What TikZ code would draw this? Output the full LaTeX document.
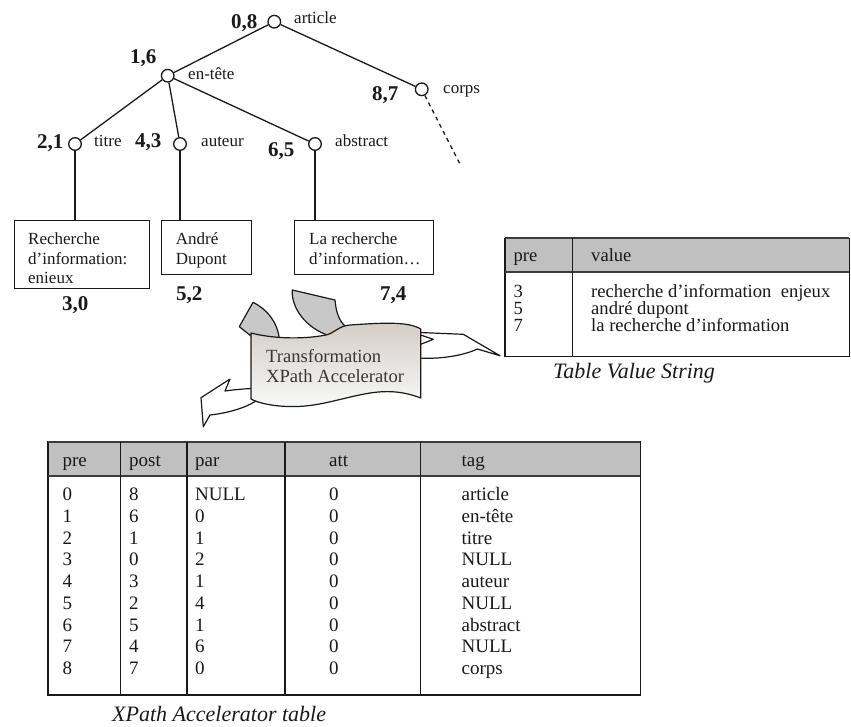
\documentclass[tikz,border=0pt]{standalone}
\usepackage{fontspec}
\setmainfont{Liberation Serif}
\newcommand\setfs[1]{\fontsize{#1}{#1}\selectfont}
\definecolor{hdrgray}{RGB}{192,192,192}
\definecolor{argray}{RGB}{200,200,200}
\definecolor{bantop}{RGB}{212,204,198}
\definecolor{banbot}{RGB}{247,249,249}
\definecolor{ink}{RGB}{25,25,25}
\definecolor{bantext}{RGB}{55,55,55}
\begin{document}
\begin{tikzpicture}[x=1pt,y=-1pt,
  tn/.style={circle,draw=ink,line width=1.3pt,minimum size=12.6pt,inner sep=0pt,fill=white},
  num/.style={anchor=base west,inner sep=0pt,text=ink,font=\setfs{21}\bfseries},
  lbl/.style={anchor=base west,inner sep=0pt,text=ink,font=\setfs{17}},
  boxn/.style={draw=ink,line width=1.3pt,anchor=north west,inner sep=0pt},
  tl/.style={draw=ink,line width=1.3pt},
  tt/.style={anchor=base west,inner sep=0pt,text=ink,font=\setfs{19}},
  vt/.style={anchor=base west,inner sep=0pt,text=ink,font=\setfs{18.6}},
  captxt/.style={anchor=base west,inner sep=0pt,text=ink,font=\setfs{22}\itshape},
  tgrid/.style={draw=ink,line width=1.5pt},
  tgridthick/.style={draw=ink!85,line width=2pt},
  arw/.style={draw=ink,line width=1.2pt,line join=round}
]
\useasboundingbox (0,0) rectangle (851,726);

% ---------- tree ----------
\node[tn] (art) at (274.3,21.7) {};
\node[tn] (ent) at (167.7,75.7) {};
\node[tn] (cor) at (421.7,89.3) {};
\node[tn] (tit) at (75,144) {};
\node[tn] (aut) at (180,144) {};
\node[tn] (abs) at (315,144) {};
\coordinate (cend) at (461,166);

\node[num] (n08) at (231,28) {0,8};
\node[lbl] (lart) at (294,23.5) {article};
\node[num] (n16) at (130,63.5) {1,6};
\node[lbl] (lent) at (188,79) {en-tête};
\node[num] (n87) at (372,100) {8,7};
\node[lbl] (lcor) at (443,93.3) {corps};
\node[num] (n21) at (37,148.3) {2,1};
\node[lbl] (ltit) at (94,146.7) {titre};
\node[num] (n43) at (135,147.7) {4,3};
\node[lbl] (laut) at (201,146.7) {auteur};
\node[num] (n65) at (268,156) {6,5};
\node[lbl] (labs) at (335,146.7) {abstract};

\node[boxn,minimum width=135pt,minimum height=68pt] (b1) at (14,220) {};
\node[boxn,minimum width=90pt,minimum height=54pt] (b2) at (161,220) {};
\node[boxn,minimum width=139pt,minimum height=54pt] (b3) at (294,220) {};
\node[lbl] (t11) at (28,244) {Recherche};
\node[lbl] (t12) at (28,264) {d’information:};
\node[lbl] (t13) at (28,283) {enieux};
\node[lbl] (t21) at (175.7,244) {André};
\node[lbl] (t22) at (175.7,264) {Dupont};
\node[lbl] (t31) at (309,244) {La recherche};
\node[lbl] (t32) at (309,264) {d’information…};

\node[num] (n30) at (62,310.7) {3,0};
\node[num] (n52) at (176,300) {5,2};
\node[num] (n74) at (380,300) {7,4};

\draw[tl] (art) -- (ent);
\draw[tl] (art) -- (cor);
\draw[tl] (ent) -- (tit);
\draw[tl] (ent) -- (aut);
\draw[tl] (ent) -- (abs);
\draw[tl] (tit.south) -- (tit.south |- b1.north);
\draw[tl] (aut.south) -- (aut.south |- b2.north);
\draw[tl] (abs.south) -- (abs.south |- b3.north);
\draw[tl,dash pattern=on 4pt off 4pt] (cor) -- (cend);

% ---------- transformation banner ----------
\path[arw,fill=argray] (239.3,326.7) -- (253,302.3)
  .. controls (268,310) and (277,322) .. (279.3,338.3) -- (251,336) -- cycle;
\path[arw,fill=argray] (292.3,290) -- (335,300)
  .. controls (336,312) and (339,321) .. (346,327) -- (330,336)
  .. controls (305,328) and (291,307) .. (292.3,290) -- cycle;
\path[arw,fill=white] (415,332.3) -- (463.3,334.3) -- (500,355.7) -- (477.3,349)
  .. controls (465,355) and (440,360) .. (415,357.7) -- cycle;
\draw[arw] (420.7,335) -- (433.3,339.3) -- (420.7,344.3);
\path[arw,fill=white] (256,388.3) .. controls (240,389) and (232,390) .. (225,391)
  -- (230,379) -- (201,397.7) -- (203.3,426.7) -- (210,415)
  .. controls (228,413) and (245,408) .. (256,401) -- cycle;

\path[arw,top color=bantop,bottom color=banbot]
  (251,333) .. controls (270,338) and (300,340) .. (326,335)
  .. controls (335,333) and (338,326) .. (350,325)
  .. controls (380,323) and (408,321) .. (420.7,329)
  -- (420.7,398)
  .. controls (405,392) and (390,390) .. (370,393)
  .. controls (345,397) and (320,406.5) .. (295,406.5)
  .. controls (275,407) and (258,403) .. (251,399) -- cycle;
\node[anchor=base west,inner sep=0pt,text=bantext,font=\setfs{18.6}] (bt1) at (266,362.7) {Transformation};
\node[anchor=base west,inner sep=0pt,text=bantext,font=\setfs{18.6}] (bt2) at (266,382.7) {XPath Accelerator};

% ---------- value string table ----------
\fill[hdrgray] (505,238.3) rectangle (849.3,271.7);
\draw[tgrid] (505,238.3) rectangle (849.3,356.7);
\draw[tgridthick] (505,238.3) -- (849.3,238.3);
\draw[tgridthick] (505,271.7) -- (849.3,271.7);
\draw[tgrid] (572.7,238.3) -- (572.7,356.7);
\node[vt] (vh1) at (513.3,261.5) {pre};
\node[vt] (vh2) at (591,261.5) {value};
\node[vt] (v11) at (513.3,297.7) {3};
\node[vt] (v12) at (591,297.7) {recherche d’information\ \ enjeux};
\node[vt] (v21) at (513.3,314.3) {5};
\node[vt] (v22) at (591,314.3) {andré dupont};
\node[vt] (v31) at (513.3,331) {7};
\node[vt] (v32) at (591,331) {la recherche d’information};
\node[captxt] (vcap) at (553,378.5) {Table Value String};

% ---------- XPath accelerator table ----------
\fill[hdrgray] (47.8,441.7) rectangle (640.4,476);
\draw[tgrid] (47.8,441.7) rectangle (640.4,695);
\draw[tgridthick] (47.8,441.7) -- (640.4,441.7);
\draw[tgridthick] (47.8,476) -- (640.4,476);
\foreach \cx in {120.5,187.2,285,420.6} {
  \draw[tgrid] (\cx,441.7) -- (\cx,695);
}
\node[tt] (xh1) at (62.4,466) {pre};
\node[tt] (xh2) at (129,466) {post};
\node[tt] (xh3) at (195,466) {par};
\node[tt] (xh4) at (329,466) {att};
\node[tt] (xh5) at (461.4,466) {tag};
\foreach \p/\q/\r/\t [count=\i from 0] in
  {0/8/NULL/article,1/6/0/en-tête,2/1/1/titre,3/0/2/NULL,4/3/1/auteur,
   5/2/4/NULL,6/5/1/abstract,7/4/6/NULL,8/7/0/corps} {
  \node[tt] (xa\i) at (62.4,{500.7+21.75*\i}) {\p};
  \node[tt] (xb\i) at (129,{500.7+21.75*\i}) {\q};
  \node[tt] (xc\i) at (195,{500.7+21.75*\i}) {\r};
  \node[tt] (xd\i) at (329,{500.7+21.75*\i}) {0};
  \node[tt] (xe\i) at (461.4,{500.7+21.75*\i}) {\t};
}
\node[captxt] (xcap) at (112,721.5) {XPath Accelerator table};
\end{tikzpicture}
\end{document}
